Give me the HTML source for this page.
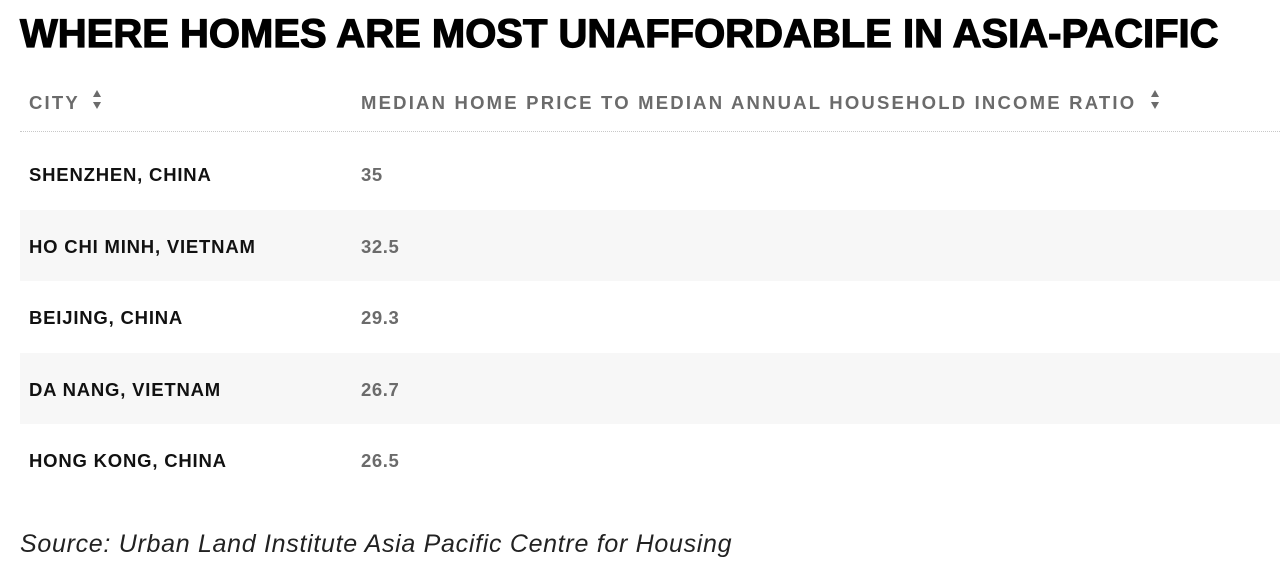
<!DOCTYPE html>
<html>
<head>
<meta charset="utf-8">
<style>
  html, body { margin:0; padding:0; background:#fff; }
  body { width:1280px; height:581px; position:relative; overflow:hidden; font-family:"Liberation Sans", Arial, sans-serif; }
  .abs { position:absolute; white-space:nowrap; }
  .title { left:20px; top:13.5px; font-size:40px; line-height:40px; font-weight:bold; color:#000; letter-spacing:0px; -webkit-text-stroke:1.2px #000; }
  .hdr { top:92.5px; font-size:18.5px; line-height:20px; font-weight:bold; color:#6b6b6b; letter-spacing:2.2px; }
  .dots { left:20px; top:131px; width:1260px; height:0; border-top:1px dotted #c8c8c8; }
  .band { left:20px; width:1260px; height:71.5px; background:#f7f7f7; }
  .cell { font-size:18.5px; line-height:20px; font-weight:bold; letter-spacing:0.8px; }
  .city { left:29px; color:#111; }
  .val { left:361px; color:#6b6b6b; letter-spacing:0.6px; }
  .src { left:20px; top:529px; font-size:25px; line-height:30px; font-style:italic; color:#222; letter-spacing:0.7px; }
</style>
</head>
<body>
  <div class="abs title">WHERE HOMES ARE MOST UNAFFORDABLE IN ASIA-PACIFIC</div>

  <div class="abs hdr" style="left:29px;">CITY</div>
  <svg class="abs" style="left:92px;top:89px;" width="10" height="22" viewBox="0 0 10 22">
    <polygon points="5,1 9,8 1,8" fill="#6b6b6b"/>
    <polygon points="1,13 9,13 5,20" fill="#6b6b6b"/>
  </svg>

  <div class="abs hdr" style="left:361px;">MEDIAN HOME PRICE TO MEDIAN ANNUAL HOUSEHOLD INCOME RATIO</div>
  <svg class="abs" style="left:1150px;top:89px;" width="10" height="22" viewBox="0 0 10 22">
    <polygon points="5,1 9,8 1,8" fill="#6b6b6b"/>
    <polygon points="1,13 9,13 5,20" fill="#6b6b6b"/>
  </svg>

  <div class="abs dots"></div>

  <div class="abs band" style="top:209.5px;"></div>
  <div class="abs band" style="top:352.5px;"></div>

  <div class="abs cell city" style="top:165px;">SHENZHEN, CHINA</div>
  <div class="abs cell val" style="top:165px;">35</div>

  <div class="abs cell city" style="top:236.5px;">HO CHI MINH, VIETNAM</div>
  <div class="abs cell val" style="top:236.5px;">32.5</div>

  <div class="abs cell city" style="top:308px;">BEIJING, CHINA</div>
  <div class="abs cell val" style="top:308px;">29.3</div>

  <div class="abs cell city" style="top:379.5px;">DA NANG, VIETNAM</div>
  <div class="abs cell val" style="top:379.5px;">26.7</div>

  <div class="abs cell city" style="top:451px;">HONG KONG, CHINA</div>
  <div class="abs cell val" style="top:451px;">26.5</div>

  <div class="abs src">Source: Urban Land Institute Asia Pacific Centre for Housing</div>
</body>
</html>
